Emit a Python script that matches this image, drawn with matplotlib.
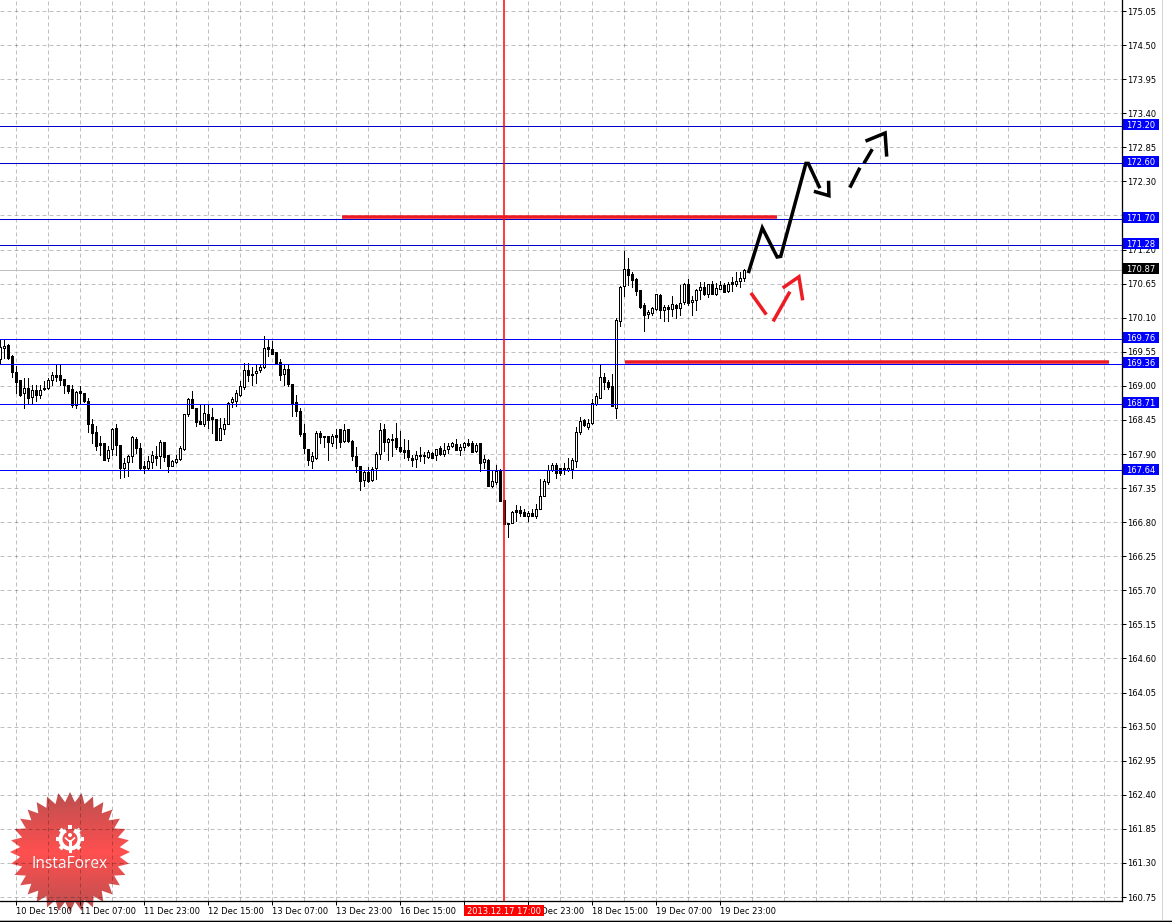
import numpy as np
import matplotlib
matplotlib.use("Agg")
import matplotlib.pyplot as plt
from matplotlib.patches import Polygon, Circle, Wedge, Rectangle

opens = [169.44,169.61,169.66,169.48,169.23,169.09,168.88,168.97,168.82,168.93,
         168.85,168.97,168.96,169.09,169.17,169.17,169.11,169.02,168.95,168.69,
         168.91,168.89,168.76,168.38,168.25,168.07,168.07,167.83,167.98,168.32,
         168.04,167.68,167.77,167.86,168.15,167.99,167.71,167.68,167.77,167.87,
         167.86,168.10,167.88,167.71,167.77,167.82,167.98,168.54,168.78,168.65,
         168.44,168.39,168.55,168.49,168.47,168.13,168.31,168.39,168.74,168.76,
         168.85,168.98,169.25,169.17,169.21,169.25,169.30,169.63,169.60,169.54,
         169.39,169.19,169.27,169.03,168.74,168.60,168.24,167.98,167.79,167.83,
         168.24,168.19,168.19,168.08,168.21,168.30,168.11,168.30,168.11,167.86,
         167.71,167.48,167.61,167.48,167.67,167.90,168.31,168.09,168.15,168.16,
         168.02,167.96,167.97,167.84,167.82,167.89,167.89,167.85,167.92,167.88,
         167.99,167.90,167.98,168.03,168.06,167.96,168.02,168.07,168.07,167.95,
         168.07,167.77,167.81,167.39,167.45,167.62,167.15,166.77,166.78,166.99,
         166.99,166.97,166.90,166.95,166.90,167.02,167.22,167.45,167.65,167.73,
         167.68,167.68,167.65,167.66,167.79,168.25,168.45,168.34,168.40,168.71,
         168.81,169.15,169.07,168.99,168.65,170.05,170.61,170.89,170.81,170.73,
         170.54,170.30,170.16,170.18,170.24,170.46,170.22,170.28,170.24,170.31,
         170.25,170.35,170.65,170.35,170.38,170.55,170.60,170.48,170.65,170.48,
         170.56,170.63,170.53,170.67,170.64,170.69,170.74]
highs = [169.76,169.75,169.68,169.49,169.32,169.09,169.13,169.13,169.01,169.02,
         169.02,169.08,169.13,169.22,169.33,169.33,169.11,169.02,169.02,168.92,
         168.99,168.89,168.81,168.46,168.36,168.19,168.07,168.03,168.32,168.39,
         168.05,167.84,167.88,168.19,168.18,168.08,167.78,167.87,167.95,168.03,
         168.12,168.10,167.88,167.81,167.88,168.03,168.55,168.81,168.91,168.65,
         168.70,168.70,168.70,168.65,168.47,168.48,168.48,168.74,168.82,168.94,
         169.08,169.37,169.37,169.31,169.35,169.35,169.81,169.75,169.73,169.54,
         169.43,169.35,169.33,169.03,168.85,168.65,168.39,167.98,167.94,168.27,
         168.27,168.19,168.19,168.22,168.31,168.31,168.38,168.31,168.13,168.02,
         167.71,167.65,167.69,167.69,167.93,168.40,168.39,168.16,168.23,168.40,
         168.27,168.15,168.12,167.88,167.95,168.02,167.94,167.96,167.93,167.98,
         168.03,168.07,168.07,168.10,168.15,168.06,168.09,168.15,168.11,168.07,
         168.07,167.88,167.82,167.62,167.73,167.66,167.15,166.79,166.98,167.07,
         167.06,167.02,166.98,167.02,167.09,167.49,167.49,167.73,167.76,167.75,
         167.68,167.75,167.83,167.83,168.33,168.49,168.47,168.47,168.78,168.89,
         169.36,169.20,169.09,169.19,170.10,170.61,171.17,171.07,170.83,170.74,
         170.55,170.33,170.22,170.27,170.49,170.49,170.30,170.30,170.45,170.32,
         170.62,170.66,170.73,170.45,170.56,170.67,170.68,170.64,170.69,170.66,
         170.69,170.66,170.68,170.76,170.84,170.83,170.89]
lows = [169.37,169.45,169.43,169.14,168.88,168.83,168.64,168.71,168.71,168.75,
        168.80,168.94,168.95,169.01,169.08,169.02,168.88,168.89,168.66,168.64,
        168.73,168.74,168.25,168.08,167.97,167.89,167.80,167.78,167.89,167.89,
        167.51,167.53,167.54,167.77,167.91,167.66,167.59,167.65,167.68,167.73,
        167.67,167.78,167.61,167.70,167.75,167.80,167.97,168.51,168.64,168.35,
        168.39,168.36,168.32,168.24,168.12,168.12,168.22,168.38,168.66,168.68,
        168.83,168.95,169.08,169.02,169.05,169.22,169.29,169.48,169.52,169.36,
        169.10,169.02,168.99,168.52,168.52,168.19,167.91,167.72,167.68,167.82,
        168.07,168.02,167.81,168.03,168.00,168.02,168.10,168.10,167.80,167.61,
        167.32,167.38,167.45,167.46,167.49,167.82,167.95,167.80,167.86,167.98,
        167.93,167.84,167.81,167.71,167.69,167.78,167.76,167.84,167.84,167.81,
        167.88,167.86,167.91,168.02,167.96,167.89,167.96,168.03,167.93,167.93,
        167.62,167.68,167.38,167.37,167.41,167.14,166.77,166.56,166.78,166.82,
        166.90,166.90,166.82,166.90,166.87,167.01,167.22,167.42,167.63,167.52,
        167.56,167.57,167.63,167.51,167.69,168.23,168.36,168.31,168.39,168.69,
        168.81,168.95,168.95,168.68,168.48,169.97,170.45,170.62,170.59,170.46,
        170.26,169.88,170.09,170.14,170.23,170.10,170.05,170.04,170.12,170.10,
        170.14,170.32,170.30,170.14,170.22,170.40,170.46,170.43,170.48,170.47,
        170.56,170.51,170.52,170.53,170.61,170.59,170.69]
closes = [169.63,169.64,169.45,169.22,169.06,168.86,168.97,168.81,168.94,168.85,
          168.94,168.95,169.10,169.18,169.14,169.10,169.02,168.92,168.69,168.90,
          168.88,168.75,168.38,168.24,168.03,168.04,167.81,167.97,168.31,168.04,
          167.67,167.76,167.86,168.17,168.00,167.68,167.68,167.78,167.89,167.83,
          168.10,167.85,167.70,167.78,167.82,167.99,168.54,168.78,168.64,168.42,
          168.39,168.57,168.45,168.46,168.13,168.32,168.39,168.72,168.79,168.88,
          168.99,169.26,169.18,169.19,169.24,169.31,169.61,169.59,169.52,169.36,
          169.17,169.27,169.03,168.73,168.59,168.23,167.99,167.80,167.86,168.24,
          168.17,168.17,168.09,168.19,168.18,168.10,168.28,168.11,167.87,167.71,
          167.46,167.61,167.46,167.66,167.90,168.29,168.09,168.14,168.12,168.01,
          167.95,167.94,167.85,167.80,167.89,167.86,167.87,167.94,167.84,167.98,
          167.90,167.97,168.03,168.07,167.97,168.02,168.07,168.04,167.93,168.05,
          167.75,167.82,167.38,167.47,167.63,167.14,166.77,166.78,166.97,166.97,
          166.95,166.90,166.94,166.90,167.02,167.23,167.47,167.64,167.73,167.60,
          167.60,167.65,167.68,167.81,168.25,168.44,168.37,168.40,168.72,168.83,
          169.15,169.06,168.98,168.68,170.07,170.60,170.89,170.79,170.71,170.53,
          170.27,170.14,170.20,170.25,170.48,170.22,170.28,170.24,170.32,170.26,
          170.34,170.65,170.34,170.39,170.54,170.60,170.48,170.64,170.49,170.58,
          170.62,170.52,170.65,170.65,170.70,170.74,170.87]

price_ticks = [175.05,174.50,173.95,173.40,172.85,172.30,171.75,171.20,170.65,170.10,169.55,169.00,168.45,
               167.90,167.35,166.80,166.25,165.70,165.15,164.60,164.05,163.50,162.95,162.40,161.85,161.30,160.75]
time_bars = [4,20,36,52,68,84,100,116,132,148,164,180]
time_labels = ["10 Dec 15:00","11 Dec 07:00","11 Dec 23:00","12 Dec 15:00","13 Dec 07:00","13 Dec 23:00",
               "16 Dec 15:00","17 Dec 07:00","17 Dec 23:00","18 Dec 15:00","19 Dec 07:00","19 Dec 23:00"]

levels_dark = [173.20,172.60,171.70,171.28]
levels_blue = [169.76,169.36,168.71,167.64]
last_price = 170.87
cursor_bar = 126
cursor_label = "2013.12.17 17:00"

# hand drawn marks: (bar, price)
black_zigzag = ([187.0,190.5,194.2,195.1,201.4,202.0,204.9],[170.82,171.55,171.08,171.09,172.59,172.59,172.19])
black_head = ([203.4,207.15,207.07],[172.14,172.07,172.31])
black_dash1 = ([212.4,214.9],[172.20,172.52])
black_dash2 = ([215.9,218.0],[172.59,172.82])
black_head2 = ([216.3,221.2,221.6],[172.95,173.08,172.70])
red_leg1 = ([187.65,191.5],[170.50,170.15])
red_leg2 = ([193.2,197.4],[170.04,170.52])
red_head = ([195.6,199.65,200.6],[170.58,170.76,170.38])
red_upper = ([85.4,194.2],[171.73,171.73])
red_lower = ([156.2,277.2],[169.39,169.39])

W, H = 1172, 922
PX = 72/100  # one pixel in points
FONT = "DejaVu Sans"
FS = 6.0
RED = "#ed1c24"

fig = plt.figure(figsize=(W/100, H/100), dpi=100, facecolor="white")

# logo and outer frame sit behind the chart, in pixel coordinates
bg = fig.add_axes([0, 0, 1, 1], zorder=0)
bg.set_xlim(0, W)
bg.set_ylim(H, 0)
bg.axis("off")
bg.plot([1161.5, 1161.5], [0, 920], color="#d4d4d4", lw=PX)
bg.plot([0, W], [919.5, 919.5], color="#d4d4d4", lw=PX)
bg.plot([0, W], [921, 921], color="black", lw=PX*1.3)

cx, cy, n_spikes = 70, 852, 32
ang = np.arange(2*n_spikes)*np.pi/n_spikes
rad = np.where(np.arange(2*n_spikes) % 2 == 0, 60, 50)
star = Polygon(np.c_[cx+rad*np.sin(ang), cy-rad*np.cos(ang)], closed=True, fc="none", ec="none")
bg.add_patch(star)
t = np.abs(np.linspace(-1, 1, 120))[:, None]
grad = np.dstack([1-t*0.27, 0.31+0*t, 0.31+0*t])
im = bg.imshow(grad, extent=[cx-62, cx+62, cy+62, cy-62], aspect="auto", zorder=1)
im.set_clip_path(star)
bg.set_xlim(0, W)
bg.set_ylim(H, 0)

# gear with the little figure inside
gx, gy = 70, 839
bg.add_patch(Wedge((gx, gy), 11.5, -65, 245, width=4, fc="white", ec="none", zorder=2))
for a in np.arange(-45, 230, 45):
    r = np.deg2rad(a)
    bg.plot([gx+10*np.cos(r), gx+14*np.cos(r)], [gy-10*np.sin(r), gy-14*np.sin(r)], color="white", lw=4*PX, zorder=2, solid_capstyle="butt")
bg.add_patch(Circle((gx, gy-4), 2, fc="white", ec="none", zorder=2))
bg.add_patch(Rectangle((gx-1.5, gy+1), 3, 12.5, fc="white", ec="none", zorder=2))
bg.plot([gx-4.5, gx, gx+4.5], [gy-1, gy+3, gy-1], color="white", lw=1.6*PX, zorder=2)
bg.text(70, 864, "InstaForex", color="white", fontsize=11.2, family="Open Sans", ha="center", va="center", zorder=3)

ax = fig.add_axes([0, (H-901)/H, 1121.5/W, 901/H], zorder=1)
ax.patch.set_visible(False)
ax.set_xlim(-0.075, 280.3)
ax.set_ylim(175.05-890/61.96, 175.05+11/61.96)

for s in ["top", "left"]:
    ax.spines[s].set_visible(False)
for s in ["right", "bottom"]:
    ax.spines[s].set_linewidth(1.3*PX)

ax.yaxis.tick_right()
ax.set_yticks(price_ticks)
ax.set_yticklabels([f"{p:.2f}" for p in price_ticks], fontsize=FS, family=FONT, va="center_baseline")
ax.tick_params(axis="y", length=4*PX, width=PX, pad=1)
ax.set_xticks(time_bars)
ax.set_xticklabels(time_labels, fontsize=FS, family=FONT, ha="left")
ax.tick_params(axis="x", length=4*PX, width=PX, pad=1.5)

# grid: black with alpha so that it darkens the logo below it
for b in np.arange(4, 280, 8):
    ax.axvline(b, color="black", alpha=0.25, lw=PX, ls=(0, (4, 3)), zorder=1)
for p in price_ticks:
    ax.axhline(p, color="black", alpha=0.25, lw=PX, ls=(0, (4, 3)), zorder=1)

ax.axhline(last_price, color="#c0c0c0", lw=PX, zorder=1.5)

x = np.arange(len(opens))
o, h, l, c = map(np.array, (opens, highs, lows, closes))
ax.vlines(x, l, h, color="black", lw=PX, zorder=2, antialiased=False)
up = c >= o
ax.bar(x[up], (c-o)[up], bottom=o[up], width=0.5, fc="white", ec="black", lw=PX, zorder=3, antialiased=False)
ax.bar(x[~up], (c-o)[~up], bottom=o[~up], width=0.5, fc="black", ec="black", lw=PX, zorder=3, antialiased=False)

for p in levels_dark:
    ax.axhline(p, color="#0000c8", lw=PX, zorder=4)
for p in levels_blue:
    ax.axhline(p, color="#0000ff", lw=PX, zorder=4)
ax.axvline(cursor_bar, color="#ff0000", lw=1.5*PX, zorder=4)

for seg in [red_upper, red_lower]:
    ax.plot(seg[0], seg[1], color=RED, lw=3.5*PX, zorder=5, solid_capstyle="butt")
for seg in [red_leg1, red_leg2, red_head]:
    ax.plot(seg[0], seg[1], color=RED, lw=3.5*PX, zorder=5, solid_capstyle="butt", solid_joinstyle="miter")
for seg in [black_zigzag, black_head, black_dash1, black_dash2, black_head2]:
    ax.plot(seg[0], seg[1], color="black", lw=3.5*PX, zorder=5, solid_capstyle="butt", solid_joinstyle="miter")

# price boxes on the right scale, they cover the tick labels below them
ytr = ax.get_yaxis_transform()
box_x0, box_w = 1123/1121.5, 36/1121.5
box_h = 11/61.96
nudge = 1/61.96
for p, col in [(v, "#0000ff") for v in levels_dark+levels_blue]+[(last_price, "black")]:
    ax.add_patch(Rectangle((box_x0, p+nudge-box_h/2), box_w, box_h, transform=ytr, fc=col, ec="none", zorder=6, clip_on=False))
    ax.text(box_x0+box_w/2, p+nudge, f"{p:.2f}", transform=ytr, color="white", fontsize=FS, family=FONT,
            ha="center", va="center_baseline", zorder=7, clip_on=False)

xtr = ax.get_xaxis_transform()
ax.add_patch(Rectangle((cursor_bar-10, -15/901), 20, 11/901, transform=xtr, fc="#ff0000", ec="none", zorder=6, clip_on=False))
ax.text(cursor_bar, -9.5/901, cursor_label, transform=xtr, color="white", fontsize=FS, family=FONT,
        ha="center", va="center_baseline", zorder=7, clip_on=False)

fig.savefig("out.png", dpi=100)
